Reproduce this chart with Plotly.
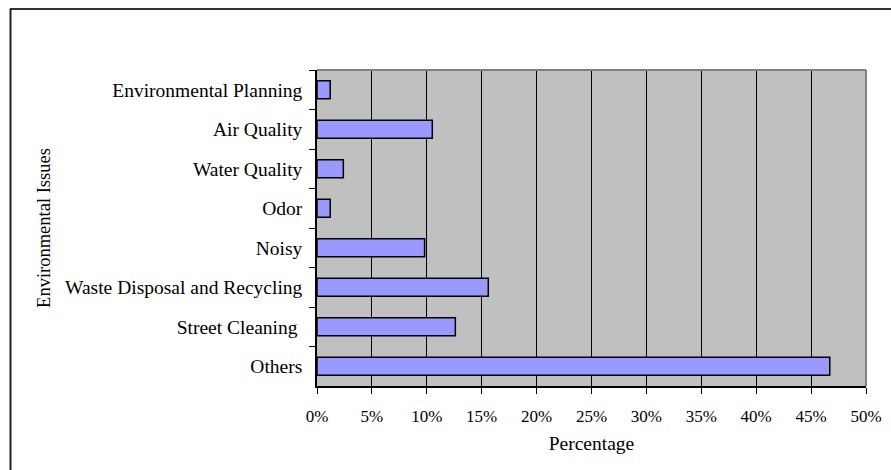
import plotly.graph_objects as go

categories = ["Environmental Planning", "Air Quality", "Water Quality", "Odor",
              "Noisy", "Waste Disposal and Recycling", "Street Cleaning ", "Others"]
values = [1.2, 10.5, 2.4, 1.2, 9.8, 15.6, 12.6, 46.7]
tick_vals = [0, 5, 10, 15, 20, 25, 30, 35, 40, 45, 50]
tick_text = [f"{v}%" for v in tick_vals]

FONT = "Liberation Serif, Times New Roman, serif"

fig = go.Figure(go.Bar(
    x=values, y=categories, orientation="h",
    marker=dict(color="#9999FF", line=dict(color="black", width=1.5)),
    width=0.45,
))

W, H = 891, 470
L, R, T, B = 317, 25, 70, 84
pw, ph = W - L - R, H - T - B

def px(x):
    return (x - L) / pw

def py(y):
    return (H - B - y) / ph

fig.update_layout(
    width=W, height=H,
    margin=dict(l=L, r=R, t=T, b=B),
    paper_bgcolor="white", plot_bgcolor="#C0C0C0",
    font=dict(family=FONT, size=17, color="black"),
    showlegend=False,
    xaxis=dict(
        range=[0, 50], tickvals=tick_vals, ticktext=tick_text,
        tickfont=dict(size=17),
        showgrid=True, gridcolor="black", gridwidth=1,
        showline=True, linecolor="black", linewidth=1.5,
        ticks="outside", ticklen=6, tickcolor="black", tickwidth=1,
        ticklabelstandoff=8,
        zeroline=False,
        title=dict(text="Percentage", font=dict(size=19.5), standoff=11),
        automargin=False, fixedrange=True,
    ),
    yaxis=dict(
        categoryorder="array", categoryarray=categories,
        range=[7.5, -0.5],
        tickfont=dict(size=19.5),
        showgrid=False, showline=True, linecolor="black", linewidth=1.5,
        ticks="outside", ticklen=6, tickcolor="black", tickwidth=1,
        tickson="boundaries", ticklabelstandoff=9,
        title=dict(text="Environmental Issues", font=dict(size=18.5), standoff=10),
        automargin=False, fixedrange=True,
    ),
    shapes=[
        # plot area top/right border
        dict(type="line", xref="paper", yref="paper", x0=0, x1=1, y0=1, y1=1,
             line=dict(color="#808080", width=2)),
        dict(type="line", xref="paper", yref="paper", x0=1, x1=1, y0=0, y1=1,
             line=dict(color="#808080", width=2)),
        # chart outer frame (top and left visible)
        dict(type="line", xref="paper", yref="paper", x0=px(10), x1=px(W + 5),
             y0=py(9), y1=py(9), line=dict(color="#333333", width=2)),
        dict(type="line", xref="paper", yref="paper", x0=px(10.5), x1=px(10.5),
             y0=py(9), y1=py(H + 5), line=dict(color="#222222", width=2)),
    ],
)

fig.write_html("out.html")
